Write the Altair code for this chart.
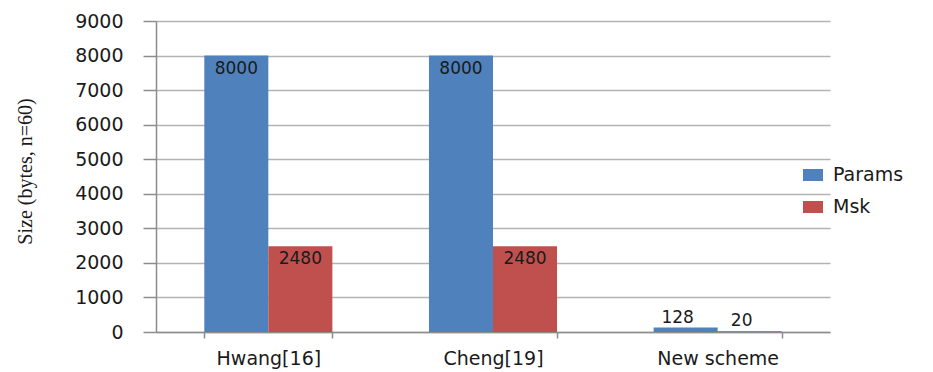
import altair as alt
import pandas as pd

schemes = ["Hwang[16]", "Cheng[19]", "New scheme"]
params = [8000, 8000, 128]
msk = [2480, 2480, 20]
series = ["Params", "Msk"]
colors = ["#4F81BD", "#C0504D"]
y_ticks = [0, 1000, 2000, 3000, 4000, 5000, 6000, 7000, 8000, 9000]

rows = []
for s, p, m in zip(schemes, params, msk):
    rows.append({"scheme": s, "series": "Params", "value": p})
    rows.append({"scheme": s, "series": "Msk", "value": m})
df = pd.DataFrame(rows)

SANS = "DejaVu Sans"
TXT = "#1a1a1a"
AX = "#8c8c8c"

x_enc = alt.X(
    "scheme:N",
    sort=schemes,
    scale=alt.Scale(paddingInner=0.43, paddingOuter=0.215),
    axis=alt.Axis(
        title=None, labelAngle=0, grid=False, tickBand="extent",
        tickSize=6, tickColor=AX, domainColor=AX, domainWidth=1.5, tickWidth=1.5,
        labelFont=SANS, labelFontSize=19, labelColor=TXT, labelPadding=11,
    ),
)
xoff = alt.XOffset("series:N", sort=series, scale=alt.Scale(paddingInner=0, paddingOuter=0))
y_enc = alt.Y(
    "value:Q",
    scale=alt.Scale(domain=[0, 9000], nice=False),
    axis=alt.Axis(
        values=y_ticks, tickCount=20, labelOverlap=False,
        title="Size (bytes, n=60)", titleFont="Liberation Serif",
        titleFontSize=20, titleFontWeight="normal", titleColor=TXT,
        titleAngle=270, titleAlign="center", titleBaseline="middle",
        titleX=-131, titleY=150,
        labelFont=SANS, labelFontSize=19, labelColor=TXT, labelPadding=20,
        tickSize=13, tickColor=AX, domainColor=AX, domainWidth=1.5, tickWidth=1.5,
        gridColor="#b3b3b3", gridWidth=1.5, format="d",
    ),
)
color_enc = alt.Color(
    "series:N",
    sort=series,
    scale=alt.Scale(domain=series, range=colors),
    legend=alt.Legend(
        title=None, orient="none", legendX=647, legendY=144, padding=0,
        symbolType="M-1,-0.6H1V0.6H-1Z", symbolSize=400, symbolStrokeWidth=0,
        labelFont=SANS, labelFontSize=19, labelColor=TXT, labelOffset=10,
        rowPadding=12,
    ),
)

base = alt.Chart(df).encode(x=x_enc, xOffset=xoff, y=y_enc)

bars = base.mark_bar(opacity=1).encode(color=color_enc)

big = base.transform_filter("datum.value >= 1000").mark_text(
    baseline="top", dy=5, font=SANS, fontSize=17, color=TXT
).encode(text="value:Q")

small = base.transform_filter("datum.value < 1000").mark_text(
    baseline="alphabetic", dy=-5, dx=-8, font=SANS, fontSize=17, color=TXT
).encode(text="value:Q")

chart = alt.layer(bars, big, small).properties(
    width=674, height=311,
    autosize=alt.AutoSizeParams(type="none"),
    padding={"left": 156, "top": 21, "right": 103, "bottom": 40},
    background="white",
).configure_view(stroke=None)

chart.save("out.html", embed_options={"renderer": "svg", "actions": False})
